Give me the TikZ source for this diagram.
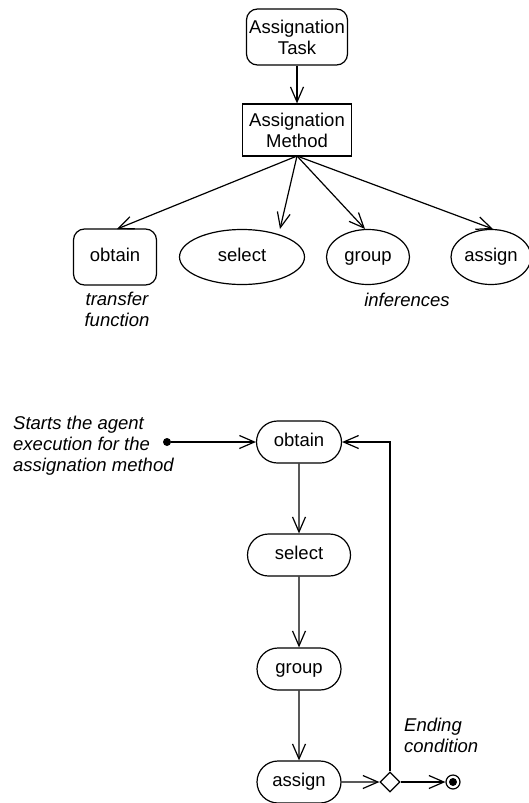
\documentclass[tikz,border=0pt]{standalone}
\usepackage{fontspec}
\setmainfont{Liberation Sans}
\usetikzlibrary{arrows.meta,shapes.geometric,shapes.misc}
\begin{document}
\begin{tikzpicture}[x=1pt,y=-1pt,
  every node/.style={font=\fontsize{18.5}{21}\selectfont, inner sep=0pt},
  line/.style={line width=1.2pt},
  arr/.style={line, -{Straight Barb[length=15pt,width=13pt,line width=1.2pt]}},
  single/.style={text height=12pt, text depth=4pt},
  roundbox/.style={draw, line width=1.2pt, rounded corners=11pt, align=center},
  plainbox/.style={draw, line width=1.2pt, align=center},
  oval/.style={draw, line width=1.2pt, ellipse, single, minimum height=55pt},
  pill/.style={draw, line width=1.2pt, rounded rectangle, single, minimum height=42pt},
  note/.style={font=\fontsize{18.5}{21}\selectfont\itshape}
]
\useasboundingbox (0,0) rectangle (528,803);

% structure of the task
\node[roundbox, minimum width=101pt, minimum height=56pt] (task) at (297,37) {Assignation\\Task};
\node[plainbox, minimum width=109pt, minimum height=52pt] (method) at (297,130) {Assignation\\Method};

\node[roundbox, single, minimum width=83pt, minimum height=56pt] (tobtain) at (115,257) {obtain};
\node[oval, minimum width=125pt] (tselect) at (242,257) {select};
\node[oval, minimum width=83pt] (tgroup) at (368,257) {group};
\node[oval, minimum width=80pt] (tassign) at (491,257) {assign};

\node[note, align=center] (tf) at (117,309) {transfer\\function};
\node[note] (inf) at (407,300) {inferences};

\coordinate (mb) at (297,156);
\draw[arr] (task) -- (method);
\draw[arr] (mb) -- (117,229);
\draw[arr] (mb) -- (280,229);
\draw[arr] (mb) -- (365,229);
\draw[arr] (mb) -- (493,229);

% execution flow
\node[note, align=left, anchor=west] (start) at (13,446) {Starts the agent\\execution for the\\assignation method};
\node[circle, fill, minimum size=8pt] (init) at (167,442) {};

\node[pill, minimum width=85pt] (obtain) at (299,442) {obtain};
\node[pill, minimum width=103pt] (select) at (299,555) {select};
\node[pill, minimum width=84pt] (group) at (299,669) {group};
\node[pill, minimum width=84pt] (assign) at (299,782) {assign};

\node[diamond, draw, line width=1.2pt, minimum width=20pt, minimum height=20pt] (cond) at (390,782) {};
\node[circle, draw, line width=1.2pt, minimum size=14pt] (final) at (453,782) {};
\node[circle, fill, minimum size=8pt] at (final) {};

\node[note, align=left, anchor=west] (ending) at (404,735) {Ending\\condition};

\draw[arr] (init) -- (obtain);
\draw[arr] (obtain) -- (select);
\draw[arr] (select) -- (group);
\draw[arr] (group) -- (assign);
\draw[arr] (assign) -- (cond);
\draw[arr] (cond) -- (final);
\draw[arr] (cond.north) |- (obtain.east);
\end{tikzpicture}
\end{document}
